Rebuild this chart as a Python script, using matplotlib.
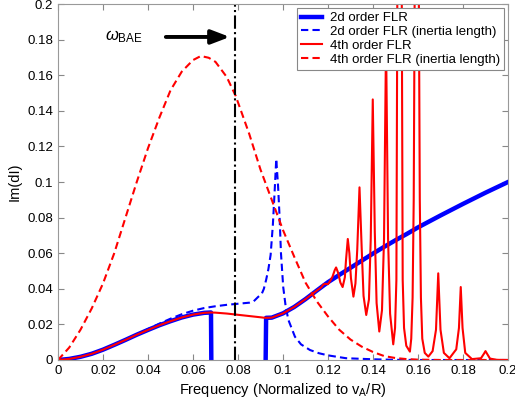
import matplotlib
matplotlib.use('Agg')
import matplotlib.pyplot as plt
from matplotlib.ticker import FuncFormatter

plt.rcParams['font.family'] = ['Liberation Sans', 'DejaVu Sans']
plt.rcParams['mathtext.fontset'] = 'custom'
plt.rcParams['mathtext.rm'] = 'Liberation Sans'
plt.rcParams['mathtext.it'] = 'Liberation Sans:italic'

# 2d order FLR (thick blue)
flr2_x = [0, 0.005, 0.01, 0.015, 0.02, 0.025, 0.03, 0.035, 0.04, 0.045, 0.05, 0.055,
          0.06, 0.065, 0.068, 0.0682, 0.0922, 0.0925, 0.095, 0.1, 0.105, 0.11, 0.115,
          0.12, 0.125, 0.13, 0.135, 0.14, 0.145, 0.15, 0.155, 0.16, 0.17, 0.18, 0.19, 0.2]
flr2_y = [0, 0.0006, 0.0018, 0.0035, 0.0058, 0.0085, 0.0113, 0.0142, 0.0169, 0.0195, 0.0218, 0.0239,
          0.0255, 0.0265, 0.0267, -0.01, -0.01, 0.0237, 0.0238, 0.0262, 0.0298, 0.0342, 0.039,
          0.0437, 0.0478, 0.0518, 0.0558, 0.0598, 0.0636, 0.0673, 0.0708, 0.0745, 0.0812, 0.0877, 0.094, 0.1]

# 2d order FLR (inertia length) (blue dashed)
flr2i_x = [0, 0.005, 0.01, 0.015, 0.02, 0.025, 0.03, 0.035, 0.04, 0.045, 0.05, 0.055, 0.06,
           0.065, 0.07, 0.075, 0.08, 0.085, 0.087, 0.089, 0.0905, 0.0915, 0.0925, 0.0935, 0.0945,
           0.0955, 0.0963, 0.097, 0.0978, 0.0985, 0.0991, 0.1001, 0.1012, 0.1024, 0.1053, 0.108,
           0.112, 0.116, 0.12, 0.128, 0.14, 0.15, 0.16, 0.2]
flr2i_y = [0, 0.0006, 0.0018, 0.0035, 0.0058, 0.0085, 0.0114, 0.0144, 0.0174, 0.0204, 0.0232, 0.0257, 0.0277,
           0.0292, 0.0302, 0.031, 0.0316, 0.0322, 0.033, 0.0355, 0.037, 0.040, 0.045, 0.051, 0.059,
           0.076, 0.095, 0.113, 0.098, 0.08, 0.06, 0.041, 0.03, 0.0225, 0.0131, 0.0088,
           0.0056, 0.0038, 0.0026, 0.001, 0.0004, 0.0001, 0.0, 0.0]

# 4th order FLR (red solid)
flr4_x = [0, 0.005, 0.01, 0.015, 0.02, 0.025, 0.03, 0.035, 0.04, 0.045, 0.05, 0.055,
          0.06, 0.065, 0.068, 0.07, 0.075, 0.08, 0.085, 0.09, 0.092, 0.095, 0.1, 0.105,
          0.11, 0.115, 0.117, 0.118, 0.119, 0.12, 0.121, 0.122, 0.123, 0.1236, 0.1245,
          0.1255, 0.1265, 0.1275, 0.128, 0.1288, 0.1295, 0.1302, 0.1313, 0.1322, 0.133,
          0.134, 0.135, 0.1358, 0.137, 0.1382, 0.139, 0.1399, 0.1408, 0.1416, 0.1428,
          0.144, 0.1449, 0.1458, 0.1467, 0.1476, 0.149, 0.1498, 0.1504, 0.1508, 0.1518,
          0.1528, 0.1532, 0.1538, 0.1548, 0.1564, 0.157, 0.1576, 0.1581, 0.1585, 0.1594,
          0.1604, 0.1608, 0.1613, 0.1619, 0.163, 0.1646, 0.1665, 0.168, 0.169, 0.17, 0.1715,
          0.174, 0.177, 0.1782, 0.179, 0.1798, 0.181, 0.184, 0.188, 0.1893, 0.19, 0.1907,
          0.192, 0.195, 0.2]
flr4_y = [0, 0.0006, 0.0018, 0.0035, 0.0058, 0.0085, 0.0113, 0.0142, 0.0169, 0.0195, 0.0218, 0.0239,
          0.0255, 0.0265, 0.0267, 0.0266, 0.0261, 0.0254, 0.0247, 0.024, 0.0237, 0.0238, 0.0262, 0.0298,
          0.0342, 0.039, 0.0408, 0.0425, 0.0428, 0.0426, 0.0445, 0.0468, 0.0505, 0.052, 0.049,
          0.0435, 0.041, 0.0465, 0.056, 0.068, 0.06, 0.046, 0.0356, 0.043, 0.062,
          0.097, 0.062, 0.036, 0.0253, 0.034, 0.068, 0.1464, 0.072, 0.032, 0.016,
          0.028, 0.068, 0.18, 0.068, 0.026, 0.0088, 0.018, 0.045, 0.2, 0.6,
          0.2, 0.045, 0.018, 0.008, 0.0047, 0.012, 0.035, 0.09, 0.2, 0.6,
          0.2, 0.09, 0.035, 0.012, 0.004, 0.0019, 0.005, 0.017, 0.0487, 0.017, 0.004,
          0.001, 0.006, 0.018, 0.041, 0.018, 0.004, 0.0005, 0.001, 0.0035, 0.005, 0.0035,
          0.0008, 0.0001, 0.0]

# 4th order FLR (inertia length) (red dashed)
flr4i_x = [0, 0.005, 0.01, 0.015, 0.02, 0.025, 0.03, 0.035, 0.04, 0.045, 0.05, 0.055, 0.06,
           0.0635, 0.067, 0.07, 0.075, 0.079, 0.085, 0.09, 0.095, 0.1, 0.105, 0.11, 0.115,
           0.12, 0.125, 0.13, 0.135, 0.14, 0.145, 0.15, 0.155, 0.16, 0.17, 0.2]
flr4i_y = [0, 0.007, 0.017, 0.029, 0.043, 0.06, 0.08, 0.1, 0.119, 0.136, 0.1515, 0.162, 0.1685,
           0.1708, 0.1698, 0.1675, 0.159, 0.1483, 0.127, 0.107, 0.09, 0.073, 0.058, 0.0435, 0.033,
           0.0245, 0.017, 0.0115, 0.0075, 0.0045, 0.0022, 0.0011, 0.0005, 0.0002, 0.0, 0.0]

bae_freq = 0.0787
ticks = [0, 0.02, 0.04, 0.06, 0.08, 0.1, 0.12, 0.14, 0.16, 0.18, 0.2]

fig = plt.figure(figsize=(5.15, 4.03), dpi=100)
ax = fig.add_axes([0.1126, 0.1067, 0.8738, 0.8833])

ax.plot(flr2_x, flr2_y, color='blue', lw=3.2, label='2d order FLR')
ax.plot(flr2i_x, flr2i_y, color='blue', lw=1.5, linestyle=(0, (3.5, 2)), label='2d order FLR (inertia length)')
ax.plot(flr4_x, flr4_y, color='red', lw=1.5, label='4th order FLR')
ax.plot(flr4i_x, flr4i_y, color='red', lw=1.5, linestyle=(0, (3.5, 2)), label='4th order FLR (inertia length)')

ax.axvline(bae_freq, color='black', lw=1.5, linestyle='-.')
ax.annotate('', xy=(0.0776, 0.1815), xytext=(0.0467, 0.1815),
            arrowprops=dict(arrowstyle='-|>,head_length=1.1,head_width=0.42', color='black', lw=2.8))
ax.text(0.0208, 0.1815, r'$\omega_{\rm BAE}$', fontsize=12, va='center', ha='left')

ax.set_xlim(0, 0.2)
ax.set_ylim(0, 0.2)
ax.set_xticks(ticks)
ax.set_yticks(ticks)
fmt = FuncFormatter(lambda v, p: '%g' % round(v, 3))
ax.xaxis.set_major_formatter(fmt)
ax.yaxis.set_major_formatter(fmt)
ax.tick_params(direction='in', top=True, right=True, length=4, labelsize=9.5, color='#888888')
for s in ax.spines.values():
    s.set_color('#999999')

ax.set_xlabel(r'Frequency (Normalized to v$_{\rm A}$/R)', fontsize=10.5, labelpad=3)
ax.set_ylabel('Im(dI)', fontsize=10.5, labelpad=4)

leg = ax.legend(loc='upper right', fontsize=9.5, handlelength=1.6, handletextpad=0.6,
                borderaxespad=0.3, labelspacing=0.12, fancybox=False, framealpha=1,
                edgecolor='#888888', borderpad=0.3)
leg.get_frame().set_linewidth(0.8)

plt.savefig('out.png', dpi=100)
